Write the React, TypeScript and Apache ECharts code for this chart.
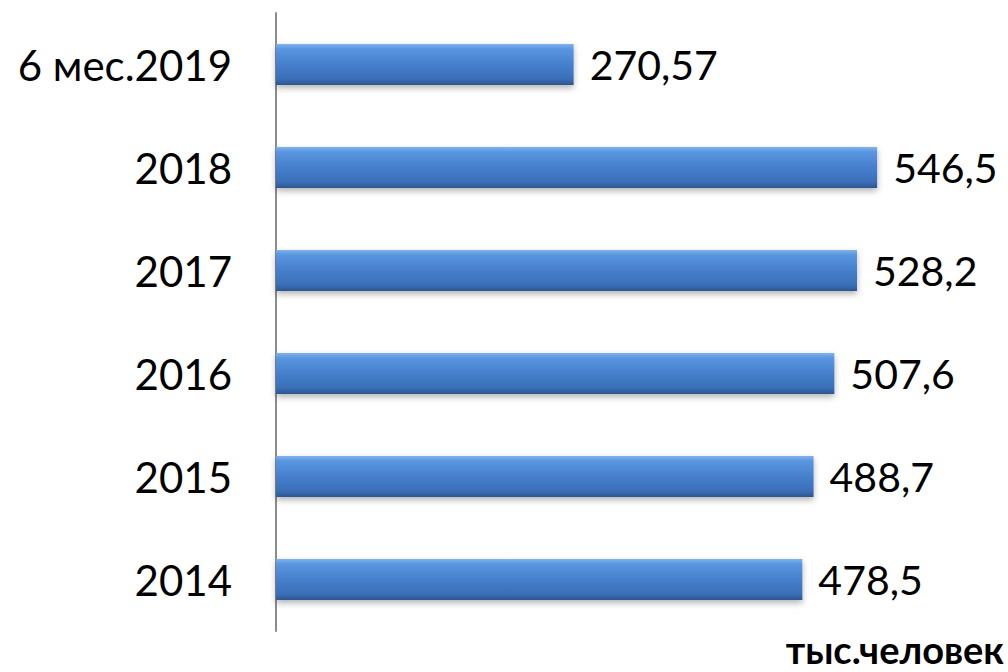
import React, { useEffect, useRef } from "react";
import * as echarts from "echarts";

const categories = ["2014", "2015", "2016", "2017", "2018", "6 мес.2019"];
const values = [478.5, 488.7, 507.6, 528.2, 546.5, 270.57];
const unitLabel = "тыс.человек";

export default function App() {
  const ref = useRef<HTMLDivElement>(null);
  useEffect(() => {
    if (!ref.current) return;
    const chart = echarts.init(ref.current, null, { renderer: "svg" });
    chart.setOption({
      animation: false,
      backgroundColor: "#ffffff",
      grid: { left: 276, top: 13, bottom: 41, right: 72, containLabel: false },
      xAxis: {
        type: "value",
        min: 0,
        max: 600,
        show: false,
      },
      yAxis: {
        type: "category",
        data: categories,
        axisLine: { show: true, lineStyle: { color: "#8c8c8c", width: 2 } },
        axisTick: { show: false },
        axisLabel: {
          margin: 44,
          fontSize: 42,
          color: "#000",
          fontFamily: "Lato, 'Open Sans', sans-serif",
        },
        splitLine: { show: false },
      },
      graphic: [
        {
          type: "text",
          right: 4,
          top: 630,
          style: {
            text: unitLabel,
            font: "bold 38px Lato, 'Open Sans', sans-serif",
            fill: "#000",
          },
        },
      ],
      series: [
        {
          type: "bar",
          data: values,
          barWidth: 41,
          itemStyle: {
            color: new echarts.graphic.LinearGradient(0, 0, 0, 1, [
              { offset: 0, color: "#7fb3ef" },
              { offset: 0.12, color: "#5a96e0" },
              { offset: 0.5, color: "#467fcc" },
              { offset: 0.85, color: "#3a6fb8" },
              { offset: 1, color: "#2c568f" },
            ]),
            shadowColor: "rgba(0,0,0,0.3)",
            shadowBlur: 6,
            shadowOffsetY: 3,
          },
          label: {
            show: true,
            position: "right",
            distance: 16,
            fontSize: 41,
            color: "#000",
            fontFamily: "Lato, 'Open Sans', sans-serif",
            formatter: (p: any) => String(p.value).replace(".", ","),
          },
        },
      ],
    });
    return () => chart.dispose();
  }, []);
  return (
    <div
      ref={ref}
      style={{ position: "fixed", left: 0, top: 0, width: 1008, height: 672 }}
    />
  );
}
